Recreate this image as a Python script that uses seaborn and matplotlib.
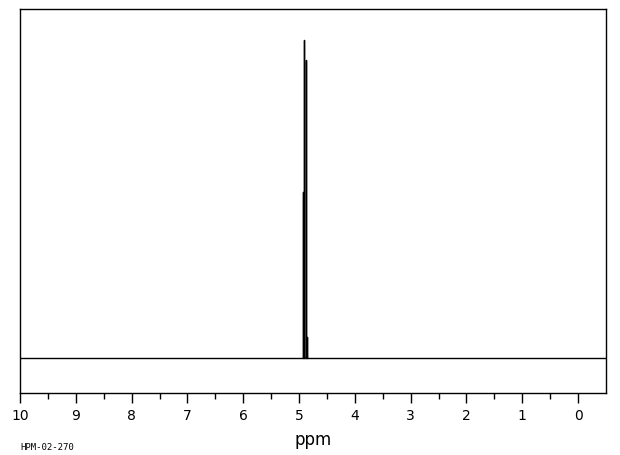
import numpy as np
import pandas as pd
import matplotlib
matplotlib.use('Agg')
import matplotlib.pyplot as plt
import seaborn as sns

# peak list (ppm, relative intensity)
peak_ppm = [4.923, 4.905, 4.869, 4.851]
peak_height = [52.2, 100.0, 93.7, 6.6]
x_ticks = [10, 9, 8, 7, 6, 5, 4, 3, 2, 1, 0]
x_label = 'ppm'
sample_id = 'HPM-02-270'

# build a stick spectrum: baseline from 10 to -0.5 ppm with a spike at each peak
xs = [10.0]
ys = [0.0]
for p, h in zip(peak_ppm, peak_height):
    xs += [p, p, p]
    ys += [0.0, h, 0.0]
xs.append(-0.5)
ys.append(0.0)
df = pd.DataFrame({'ppm': xs, 'intensity': ys})

sns.set_style('white')
plt.rcParams['font.family'] = ['DejaVu Sans']
plt.rcParams['text.color'] = 'black'
plt.rcParams['axes.labelcolor'] = 'black'
plt.rcParams['xtick.color'] = 'black'

fig = plt.figure(figsize=(6.2, 4.55), dpi=100)
ax = fig.add_axes([20 / 620, 62 / 455, 586 / 620, 384 / 455])

sns.lineplot(data=df, x='ppm', y='intensity', sort=False, estimator=None,
             color='black', linewidth=1.0, ax=ax)

ax.set_xlim(10, -0.5)
ax.set_ylim(-11.0, 109.7)
ax.set_xticks(x_ticks)
ax.set_xticklabels([str(t) for t in x_ticks], fontsize=10)
ax.set_xticks(np.arange(0.5, 10, 1.0), minor=True)
ax.set_yticks([])
ax.tick_params(axis='x', which='major', direction='out', length=7.5, width=1,
               color='black', labelcolor='black', pad=4, bottom=True)
ax.tick_params(axis='x', which='minor', direction='out', length=4, width=1,
               color='black', bottom=True)
for s in ax.spines.values():
    s.set_visible(True)
    s.set_color('black')
    s.set_linewidth(1.0)

ax.set_xlabel(x_label, fontsize=12, labelpad=6, color='black')
ax.set_ylabel('')
fig.text(20 / 620, 1 - 447 / 455, sample_id, fontsize=6.5,
         family='DejaVu Sans Mono', va='center', ha='left', color='black')

fig.savefig('out.png', dpi=100)
